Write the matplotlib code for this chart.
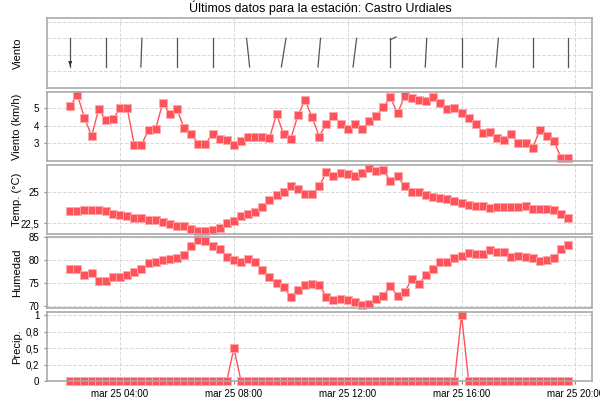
import numpy as np
import pandas as pd
import matplotlib
matplotlib.use("Agg")
import matplotlib.pyplot as plt

plt.rcParams['font.family'] = ['Liberation Sans', 'DejaVu Sans']

times = pd.date_range("2024-03-25 02:15", "2024-03-25 19:45", freq="15min")

wind = [5.1, 5.75, 4.45, 3.4, 4.95, 4.3, 4.35, 5.0, 5.0, 2.9, 2.9, 3.75, 3.8, 5.3, 4.65, 4.95,
        3.85, 3.55, 2.95, 2.95, 3.55, 3.25, 3.2, 2.9, 3.15, 3.35, 3.35, 3.35, 3.3, 4.65, 3.5, 3.25,
        4.6, 5.45, 4.47, 3.38, 4.12, 4.56, 4.12, 3.82, 4.1, 3.78, 4.26, 4.56, 5.08, 5.6, 4.7, 5.67,
        5.57, 5.44, 5.38, 5.63, 5.27, 4.94, 5.0, 4.71, 4.43, 4.12, 3.6, 3.66, 3.32, 3.17, 3.51, 3.02,
        3.04, 2.75, 3.74, 3.4, 3.11, 2.16, 2.16]

temp = [23.52, 23.49, 23.6, 23.55, 23.6, 23.52, 23.28, 23.15, 23.06, 22.96, 22.93, 22.8, 22.74,
        22.6, 22.45, 22.28, 22.26, 22.02, 21.88, 21.88, 21.96, 22.15, 22.5, 22.72, 23.06, 23.23,
        23.44, 23.84, 24.35, 24.76, 25.03, 25.54, 25.27, 24.9, 24.9, 25.48, 26.61, 26.34, 26.59,
        26.48, 26.32, 26.56, 26.96, 26.75, 26.83, 25.91, 26.29, 25.48, 25.0, 25.0, 24.76, 24.62,
        24.54, 24.44, 24.27, 24.14, 24.01, 23.87, 23.87, 23.71, 23.79, 23.79, 23.79, 23.79, 23.9,
        23.63, 23.68, 23.66, 23.58, 23.25, 22.96]

hum = [78.06, 78.06, 76.87, 77.16, 75.52, 75.52, 76.34, 76.34, 76.79, 77.46, 78.06, 79.33, 79.63,
       80.0, 80.37, 80.52, 81.12, 83.06, 84.4, 84.25, 83.13, 82.46, 80.67, 80.15, 79.55, 80.3,
       79.63, 77.84, 76.34, 75.0, 74.1, 72.09, 73.5, 74.55, 74.85, 74.7, 72.0, 71.27, 71.64, 71.27,
       70.82, 70.22, 70.37, 71.64, 72.24, 74.33, 72.24, 72.99, 75.97, 74.85, 76.87, 78.13, 79.7,
       79.7, 80.45, 81.04, 81.64, 81.34, 81.34, 82.16, 81.86, 81.86, 80.82, 81.04, 80.82, 80.45,
       79.85, 80.07, 80.45, 82.54, 83.43]

precip = [0.0] * 71
precip[23] = 0.5
precip[55] = 1.0

# wind direction shown by the arrows (every 5th sample), tilt from vertical in degrees
barb_idx = [0, 5, 10, 15, 20, 25, 30, 35, 40, 45, 50, 55, 60, 65, 70]
barb_tilt = [0, 0, 2, 0, 0, -6, 9, 5, 7, 0, 3, 0, 5, 0, 0]

title = "Últimos datos para la estación: Castro Urdiales"
xticks = pd.to_datetime(["2024-03-25 04:00", "2024-03-25 08:00", "2024-03-25 12:00",
                         "2024-03-25 16:00", "2024-03-25 20:00"])
xticklabels = ["mar 25 04:00", "mar 25 08:00", "mar 25 12:00", "mar 25 16:00", "mar 25 20:00"]

RED = '#ff525a'
fig = plt.figure(figsize=(6, 4), dpi=100)
panels = [(18, 88), (92, 161), (165, 234), (237, 308), (312, 381)]
axes = []
for top, bot in panels:
    ax = fig.add_axes([47/600, 1 - bot/400, 545/600, (bot - top)/400])
    axes.append(ax)

xmin = pd.Timestamp("2024-03-25 01:26")
xmax = pd.Timestamp("2024-03-25 20:35")
for ax in axes:
    ax.set_xlim(xmin, xmax)
    ax.set_xticks(xticks)
    ax.grid(True, color='#d8d8d8', linestyle='--', linewidth=0.7)
    for s in ax.spines.values():
        s.set_color('#aaaaaa')
        s.set_linewidth(1.2)
    ax.tick_params(labelsize=7, length=2, color='#888888')
    ax.set_axisbelow(True)
for ax in axes[:-1]:
    ax.set_xticklabels([])
    ax.tick_params(axis='x', length=0)
axes[-1].set_xticklabels(xticklabels, fontsize=7)

fig.text(320/600, 1 - 8/400, title, ha='center', va='center', fontsize=9)

ax0 = axes[0]
ax0.set_ylim(0, 1)
ax0.set_yticks([0.24, 0.47, 0.71, 0.94])
ax0.set_yticklabels([])
ax0.tick_params(axis='y', length=0)
hours_per_px = 4 / 114.0
shaft_px = 29
for i, tilt in zip(barb_idx, barb_tilt):
    t = times[i]
    dx = np.tan(np.radians(tilt)) * shaft_px * hours_per_px / 2
    t0 = t - pd.Timedelta(hours=dx)
    t1 = t + pd.Timedelta(hours=dx)
    ax0.plot([t0, t1], [0.3, 0.71], color='#555555', lw=0.9)
    if i == 0:
        ax0.annotate('', xy=(t, 0.28), xytext=(t, 0.36),
                     arrowprops=dict(arrowstyle='-|>', color='#333333', lw=0.8, mutation_scale=5))
    if i == 45:
        ax0.plot([t, t + pd.Timedelta(hours=0.2)], [0.69, 0.73], color='#555555', lw=0.9)
ax0.set_ylabel("Viento", fontsize=8)

def series(ax, vals):
    ax.plot(times, vals, color=RED, lw=1, marker='s', markersize=5.2,
            markerfacecolor=RED, markeredgecolor='#ffaaaa', markeredgewidth=0.6, clip_on=False)

series(axes[1], wind)
axes[1].set_ylim(1.99, 5.91)
axes[1].set_yticks([3, 4, 5])
axes[1].set_ylabel("Viento (km/h)", fontsize=8)

series(axes[2], temp)
axes[2].set_ylim(21.64, 27.2)
axes[2].set_yticks([22.5, 25])
axes[2].set_yticklabels(["22,5", "25"])
axes[2].set_ylabel("Temp. (°C)", fontsize=8)

series(axes[3], hum)
axes[3].set_ylim(69.6, 85.1)
axes[3].set_yticks([70, 75, 80, 85])
axes[3].set_ylabel("Humedad", fontsize=8)

series(axes[4], precip)
axes[4].set_ylim(0, 1.05)
axes[4].set_yticks([0, 0.25, 0.5, 0.75, 1])
axes[4].set_yticklabels(["0", "0,2", "0,5", "0,8", "1"])
axes[4].set_ylabel("Precip.", fontsize=8)

for ax in axes:
    ax.yaxis.set_label_coords(-0.045, 0.5)

fig.savefig("out.png", dpi=100)
